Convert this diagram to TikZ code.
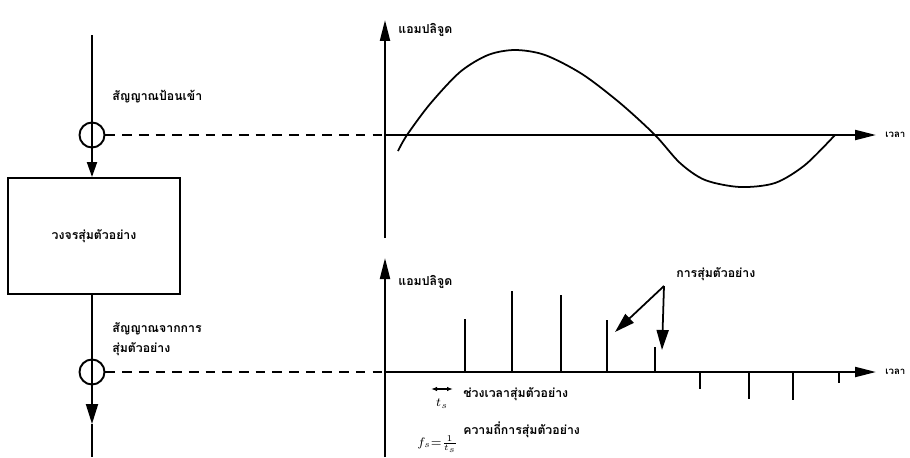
\documentclass[tikz,border=0pt]{standalone}
\usepackage{amsmath}
\usepackage{fontspec}
\newfontfamily\thaifont[Script=Thai]{Loma}
\usetikzlibrary{arrows.meta}

\begin{document}
\begin{tikzpicture}[x=0.02cm,y=-0.02cm,
  sig/.style={line width=1.1pt},
  axisline/.style={line width=1.2pt,-{Triangle[length=0.42cm,width=0.2cm]}},
  guide/.style={line width=1.1pt,dash pattern=on 5.5pt off 4pt},
  pulse/.style={line width=1pt},
  lbl/.style={font=\thaifont\fontsize{7}{11.3}\selectfont\bfseries,inner sep=0pt,anchor=west,align=left},
  tlbl/.style={lbl,font=\thaifont\fontsize{5.5}{7}\selectfont\bfseries},
  ring/.style={circle,draw,line width=1.1pt,minimum size=0.5cm,inner sep=0pt},
  bigtip/.style={-{Triangle[length=0.4cm,width=0.24cm]}}]
  \useasboundingbox (0,0) rectangle (910,457);

  % sampler chain on the left
  \coordinate (in) at (92,35);
  \node[ring] (c1) at (92,135) {};
  \node[draw,line width=1.1pt,minimum width=3.44cm,minimum height=2.32cm,
        font=\thaifont\fontsize{7}{9}\selectfont\bfseries] (box) at (94,236) {วงจรสุ่มตัวอย่าง};
  \draw[sig,-{Triangle[length=0.3cm,width=0.2cm]}] (in) -- (in |- box.north);
  \node[ring] (c2) at (92,372) {};
  \coordinate (tip) at (92,424);
  \coordinate (out) at (92,457);
  \draw[sig,bigtip] (box.south -| tip) -- (tip);
  \draw[sig] (tip) -- (out);
  \node[lbl] (inlbl) at (112,97) {สัญญาณป้อนเข้า};
  \node[lbl] (outlbl) at (112,339) {สัญญาณจากการ\\สุ่มตัวอย่าง};

  % input signal
  \coordinate (o1) at (385,135);
  \coordinate (t1) at (876,135);
  \draw[guide] (c1.east) -- (o1);
  \draw[axisline] (385,238) -- (385,20);
  \draw[axisline] (o1) -- (t1);
  \node[lbl] (amp1) at (398,30) {แอมปลิจูด};
  \node[tlbl] (time1) at (885,135) {เวลา};
  \draw[line width=1pt] plot[smooth] coordinates {(398,151) (407,135) (430,104) (460,72)
    (488,55) (515,50) (545,55) (582,74) (620,103) (655,135) (680,163) (705,180)
    (740,187) (775,183) (805,165) (835,135)};

  % sampled signal
  \coordinate (o2) at (385,372);
  \coordinate (t2) at (876,372);
  \draw[guide] (c2.east) -- (o2);
  \draw[axisline] (385,457) -- (385,258);
  \draw[axisline] (o2) -- (t2);
  \node[lbl] (amp2) at (398,282) {แอมปลิจูด};
  \node[tlbl] (time2) at (885,372) {เวลา};
  \foreach \x/\h in {465/319,512/291,561/295,607/320,655/347,700/389,749/399,793/400,839/383}
    \draw[pulse] (\x,372) -- (\x,\h);

  \node[lbl] (smp) at (676,274) {การสุ่มตัวอย่าง};
  \coordinate (fork) at (664,286);
  \draw[line width=1pt,bigtip] (fork) -- (615,332);
  \draw[line width=1pt,bigtip] (fork) -- (662,350);

  % sampling interval and frequency
  \draw[line width=0.8pt,{Latex[length=1.2mm]}-{Latex[length=1.2mm]}] (431,389) -- (453,389);
  \node[inner sep=0pt,font=\scriptsize] (ts) at (442,404) {$t_s$};
  \node[lbl] (tslbl) at (463,394) {ช่วงเวลาสุ่มตัวอย่าง};
  \node[lbl] (fslbl) at (463,430) {ความถี่การสุ่มตัวอย่าง};
  \node[inner sep=0pt,font=\scriptsize,anchor=west] (fs) at (417,444) {$f_s{=}\genfrac{}{}{}{1}{1}{t_s}$};
\end{tikzpicture}
\end{document}
